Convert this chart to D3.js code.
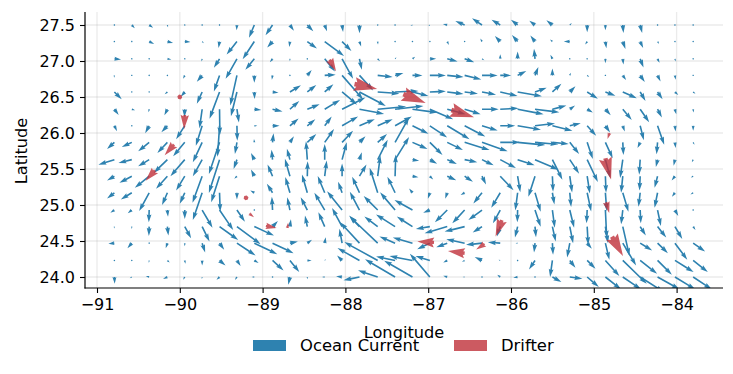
<!DOCTYPE html>
<html><head><meta charset="utf-8">
<script src="https://cdn.jsdelivr.net/npm/d3@7"></script>
<style>html,body{margin:0;padding:0;background:#fff}svg{display:block}text{font-family:"DejaVu Sans",sans-serif;fill:#000}</style>
</head><body><svg id="c" width="733" height="374"></svg>
<script>
const lonTicks=[-91,-90,-89,-88,-87,-86,-85,-84];
const latTicks=[24,24.5,25,25.5,26,26.5,27,27.5];
const gridLon=[-90.79,-90.58,-90.37,-90.15,-89.94,-89.73,-89.52,-89.31,-89.10,-88.88,-88.67,-88.46,-88.25,-88.04,-87.83,-87.61,-87.40,-87.19,-86.98,-86.77,-86.56,-86.35,-86.13,-85.92,-85.71,-85.50,-85.29,-85.08,-84.86,-84.65,-84.44,-84.23,-84.02,-83.80];
const gridLat=[27.5,27.27,27.03,26.8,26.57,26.33,26.1,25.87,25.63,25.4,25.17,24.93,24.7,24.47,24.23,24.0];
const currentU=[
[3,9,12,2,3,3,2,-1,-16,-21,12,18,7,3,0,-3,3,-6,-4,-13,-28,-30,-26,-20,-17,-18,6,0,0,2,6,3,2,3],
[2,4,15,17,17,5,-3,-31,-35,-16,-2,29,58,28,5,1,2,2,2,5,3,-5,-16,-17,-14,-7,-18,-6,3,8,9,5,2,2],
[20,2,1,12,2,-2,-17,-34,-27,-8,0,2,31,33,7,7,4,8,19,31,29,7,0,0,-3,-6,2,2,0,2,10,6,2,-4],
[-1,2,0,-1,-5,-16,-17,-20,0,-2,2,13,33,63,41,45,25,30,48,49,50,47,33,26,10,0,3,6,-3,10,14,9,2,-4],
[22,0,0,-8,-12,-16,-30,-18,1,18,33,27,26,45,79,65,70,48,48,49,40,42,52,73,35,27,17,32,30,42,16,15,10,7],
[13,10,-2,-9,-1,-8,1,6,21,30,28,37,46,70,74,85,85,75,70,55,48,50,55,78,73,42,16,17,16,27,27,13,4,1],
[8,2,-12,-18,-26,-19,-6,1,9,21,26,24,21,48,46,45,50,48,52,67,62,47,45,70,60,60,33,27,14,6,11,20,2,0],
[-22,-30,-33,-30,-35,-28,-32,-6,-1,3,12,27,28,33,18,28,42,45,38,47,75,77,60,83,70,49,28,17,22,2,-8,-3,2,4],
[-48,-40,-33,-41,-43,-28,-32,-10,-10,-3,-9,-4,0,14,7,30,42,20,22,29,38,35,47,51,70,30,28,32,15,-8,-3,-5,-4,-4],
[-22,-37,-43,-34,-26,-29,-25,-8,-10,-15,-15,1,6,0,21,8,2,18,10,27,25,12,40,8,-20,2,7,8,2,-5,-2,-9,-10,-7],
[-22,-33,-30,-16,-15,-28,2,0,-12,-17,-14,-16,-21,-12,-22,-24,-23,-10,-6,-6,-12,-26,-27,-7,17,6,4,12,4,17,-5,-9,-9,-8],
[-12,-12,-1,2,0,31,41,24,1,-2,-8,-20,-31,-45,-29,-42,-45,-54,-20,-37,-37,-41,-22,-1,17,7,13,-2,4,-5,2,10,10,-3],
[-1,0,-1,3,19,22,56,71,59,16,3,-7,-19,-30,-31,-40,-57,-47,-42,-68,-60,-28,-10,-8,3,10,10,3,8,20,17,26,22,7],
[-18,-13,0,-5,0,9,14,56,69,63,24,14,3,-8,-58,-84,-47,-59,-38,-33,-55,-48,-37,-6,-3,2,-8,14,12,40,36,31,37,36],
[-1,0,-1,7,2,0,18,11,13,33,28,13,3,-15,-66,-100,-57,-69,-43,-12,-8,-22,-5,-3,-18,-7,17,25,42,72,51,43,56,44],
[1,-6,-10,-13,-5,-1,-9,-6,-8,0,-5,0,-8,-18,-48,-59,-90,-85,-60,-12,-6,0,-9,-13,-3,27,38,35,47,55,71,66,61,56]
];
const currentV=[
[0,-10,-8,-7,-2,0,0,-16,-38,-31,-17,-19,-19,-21,-25,-2,0,-2,-3,3,12,20,16,16,13,14,6,-22,-16,-24,-24,0,0,0],
[2,0,-7,-4,-1,-5,-19,-39,-53,-18,-16,-21,-43,-28,-15,-9,-2,1,-1,-10,-1,9,17,20,18,6,0,-9,-20,-22,-19,-7,-2,-1],
[-2,-2,4,-2,-2,-8,-27,-60,-33,-10,-7,-1,-38,-60,-33,-7,5,6,0,-8,-10,-4,14,22,30,12,3,3,-13,-17,-26,-12,-8,-1],
[-7,0,3,3,-10,-19,-48,-90,-22,-13,-1,16,2,-72,-45,-5,7,0,0,-5,-12,0,0,13,25,21,8,-5,0,-14,-20,-18,-13,0],
[-22,4,3,-7,-14,-35,-80,-73,-21,-2,20,21,23,-38,-42,-5,3,-12,2,-6,-5,-8,-12,-13,13,25,17,-20,-11,-19,-27,-22,-9,-5],
[-17,-3,-9,-18,-24,-57,-78,-40,-2,-7,25,15,28,35,-14,8,10,-10,-30,-15,-15,0,3,-15,-9,11,11,-10,-18,-32,-39,-25,-15,-10],
[-16,-1,-22,-19,-40,-60,-93,-45,0,0,22,20,28,28,20,20,28,-24,-35,-40,-32,-14,0,-12,7,-15,8,-30,-20,-17,-43,-57,-17,-15],
[-20,-14,-27,-32,-42,-60,-95,-35,10,27,18,25,40,35,18,25,75,-20,-38,-23,-23,-27,0,-8,-6,-5,-35,-50,-48,-38,-17,-36,-17,-7],
[-15,-10,-20,-40,-50,-50,-100,-28,20,30,33,55,47,52,22,60,68,-3,-12,-13,-8,-17,-25,-17,-30,-60,-42,-67,-55,-55,-45,-22,-18,-8],
[-13,-20,-35,-38,-43,-80,-78,-8,20,35,52,45,47,38,35,62,65,-3,-10,-12,-17,-25,-42,-48,-62,-47,-49,-52,-50,-50,-43,-35,-13,-4],
[-17,-20,-55,-37,-33,-82,-57,-20,7,27,47,55,50,33,48,75,48,13,-18,-18,-7,-32,-45,-53,-57,-35,-43,-56,-55,-57,-42,-45,-12,-5],
[-8,-10,-37,-20,-27,-53,-60,-35,-2,40,38,38,52,56,55,42,53,30,-8,-37,-40,-30,-40,-37,-50,-53,-53,-40,-85,-43,-40,-48,-18,0],
[-6,-7,-28,-27,-35,-45,-40,-53,-27,17,22,33,43,56,33,30,36,30,-7,-20,-15,-18,-30,-33,-32,-45,-50,-55,-50,-88,-27,-33,-37,-10],
[-2,-15,-1,-15,-9,-28,-20,-37,-33,-30,5,10,18,43,63,80,20,17,-18,-12,12,-5,3,0,-28,-35,-43,-17,-50,-67,-22,-30,-50,-25],
[-4,-3,-7,-6,-10,-15,-15,-17,-8,-30,-35,0,4,15,37,55,12,13,13,-6,-4,10,2,0,-27,-50,-22,-25,-47,-70,-40,-43,-35,-35],
[-20,-4,3,-6,-8,-6,-8,-9,0,-2,-23,-7,0,2,-10,20,53,49,70,4,0,-3,7,-2,0,-15,-5,-30,-37,-37,-45,-37,-37,-37]
];
const drifterLon=[-88.19,-87.89,-87.30,-86.72,-90.00,-89.94,-90.07,-90.30,-89.20,-89.16,-88.96,-88.70,-84.81,-84.86,-84.85,-84.78,-86.93,-86.56,-86.32,-86.11];
const drifterLat=[27.02,26.68,26.54,26.32,26.50,26.25,25.84,25.48,25.10,24.88,24.71,24.68,26.00,25.65,25.04,24.56,24.48,24.33,24.46,24.79];
const drifterU=[19,68,67,68,-5,-2,-28,-28,3,14,32,2,-6,17,9,33,-50,-50,-25,-19];
const drifterV=[-35,-15,-27,-22,-5,-42,-32,-31,-3,-11,-6,16,-18,-64,-33,-58,3,7,-17,-49];
const legendItems=["Ocean Current","Drifter"];
const blue="#2e82b0", red="#bf2f3a";

const svg=d3.select("#c");
const x=d3.scaleLinear().domain([-91,-84]).range([97,676.6]);
const y=d3.scaleLinear().domain([24,27.5]).range([277,25]);
const L=85,R=723,T=12,B=288;
const speedToPx=d3.scaleLinear().domain([0,1]).range([0,1/3]);

svg.append("defs").append("clipPath").attr("id","plot").append("rect").attr("x",L).attr("y",T).attr("width",R-L).attr("height",B-T);

// grid
const grid=svg.append("g").attr("stroke","#b0b0b0").attr("stroke-opacity",0.25).attr("stroke-width",1.3);
grid.selectAll("line.v").data(lonTicks).join("line").attr("class","v").attr("x1",d=>x(d)).attr("x2",d=>x(d)).attr("y1",T).attr("y2",B);
grid.selectAll("line.h").data(latTicks).join("line").attr("class","h").attr("x1",L).attr("x2",R).attr("y1",d=>y(d)).attr("y2",d=>y(d));

// matplotlib-style quiver polygon, base on the anchor point
function quiver(len,w){
  const hw=3,hl=5,ha=4.5,minlen=1;
  const l=len/w;
  if(l<minlen){
    const r=0.5*w*minlen;
    return d3.range(6).map(i=>[r*Math.cos(i*Math.PI/3),r*Math.sin(i*Math.PI/3)]);
  }
  let px,py;
  if(l<hl){
    const s=l/hl;
    px=[0,(hl-ha)*s,0,hl*s]; py=[.5*s,.5*s,.5*hw*s,0];
  }else{
    px=[0,l-ha,l-hl,l]; py=[.5,.5,.5*hw,0];
  }
  return [[px[0]*w,py[0]*w],[px[1]*w,py[1]*w],[px[2]*w,py[2]*w],[px[3]*w,0],[px[2]*w,-py[2]*w],[px[1]*w,-py[1]*w],[px[0]*w,-py[0]*w]];
}
function arrowPath(d,w){
  const dx=speedToPx(d.u),dy=-speedToPx(d.v);
  const len=Math.hypot(dx,dy),a=Math.atan2(dy,dx),c=Math.cos(a),s=Math.sin(a);
  const ox=x(d.lon),oy=y(d.lat);
  return "M"+quiver(len,w).map(p=>[(ox+p[0]*c-p[1]*s).toFixed(2),(oy+p[0]*s+p[1]*c).toFixed(2)].join(",")).join("L")+"Z";
}

const currents=[];
gridLat.forEach((la,r)=>gridLon.forEach((lo,c)=>currents.push({lon:lo,lat:la,u:currentU[r][c],v:currentV[r][c]})));
const drifters=drifterLon.map((lo,i)=>({lon:lo,lat:drifterLat[i],u:drifterU[i],v:drifterV[i]}));

const plot=svg.append("g").attr("clip-path","url(#plot)");
plot.append("g").selectAll("path").data(currents).join("path").attr("d",d=>arrowPath(d,1.6)).attr("fill",blue);
plot.append("g").selectAll("path").data(drifters).join("path").attr("d",d=>arrowPath(d,5)).attr("fill",red).attr("fill-opacity",0.8);

// axes
const xAxis=svg.append("g").attr("transform",`translate(0,${B})`).call(d3.axisBottom(x).tickValues(lonTicks).tickFormat(d3.format("d")).tickSize(5).tickPadding(6));
const yAxis=svg.append("g").attr("transform",`translate(${L},0)`).call(d3.axisLeft(y).tickValues(latTicks).tickFormat(d3.format(".1f")).tickSize(5).tickPadding(5));
[xAxis,yAxis].forEach(a=>{a.selectAll("text").style("font-size","16px").style("font-family",'"DejaVu Sans"');a.selectAll("line").attr("stroke","#000").attr("stroke-width",1.1);a.select(".domain").remove();});
svg.append("line").attr("x1",L).attr("x2",L).attr("y1",T).attr("y2",B+.5).attr("stroke","#000").attr("stroke-width",1.2);
svg.append("line").attr("x1",L-.5).attr("x2",R).attr("y1",B).attr("y2",B).attr("stroke","#000").attr("stroke-width",1.2);

svg.append("text").attr("x",404).attr("y",338).attr("text-anchor","middle").style("font-size","16.2px").text("Longitude");
svg.append("text").attr("transform","translate(27,151) rotate(-90)").attr("text-anchor","middle").style("font-size","16.2px").text("Latitude");

// legend
const legendX=[253,454],legendText=[300,501],legendCol=[blue,"#cc5a61"];
legendItems.forEach((t,i)=>{
  svg.append("rect").attr("x",legendX[i]).attr("y",340).attr("width",33).attr("height",11).attr("fill",legendCol[i]);
  svg.append("text").attr("x",legendText[i]).attr("y",351).style("font-size","16.4px").text(t);
});
</script></body></html>
